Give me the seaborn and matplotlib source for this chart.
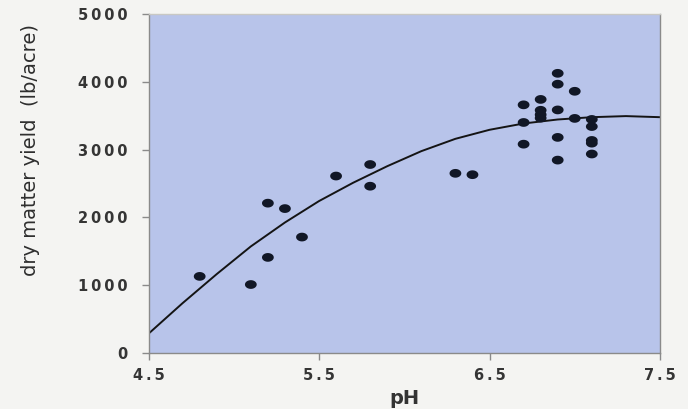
import numpy as np
import pandas as pd
import matplotlib
matplotlib.use("Agg")
import matplotlib.pyplot as plt
import seaborn as sns

# ---- data ----
ph_obs = [4.8, 5.1, 5.2, 5.2, 5.3, 5.4, 5.6, 5.8, 5.8, 6.3, 6.4,
          6.7, 6.7, 6.7, 6.8, 6.8, 6.8, 6.8,
          6.9, 6.9, 6.9, 6.9, 6.9, 7.0, 7.0,
          7.1, 7.1, 7.1, 7.1, 7.1]
yield_obs = [1130, 1010, 1410, 2210, 2130, 1710, 2610, 2780, 2460, 2650, 2630,
             3660, 3400, 3080, 3740, 3580, 3515, 3465,
             4125, 3965, 3585, 3180, 2845, 3860, 3460,
             3445, 3340, 3135, 3095, 2935]

curve_ph = [4.5, 4.7, 4.9, 5.1, 5.3, 5.5, 5.7, 5.9, 6.1, 6.3, 6.5,
            6.7, 6.9, 7.1, 7.3, 7.5]
curve_yield = [285, 736, 1164, 1572, 1925, 2241, 2511, 2755, 2977, 3159, 3292,
               3385, 3444, 3478, 3494, 3478]

x_ticks = [4.5, 5.5, 6.5, 7.5]
x_ticklabels = ["4.5", "5.5", "6.5", "7.5"]
y_ticks = [0, 1000, 2000, 3000, 4000, 5000]
y_ticklabels = ["0", "1000", "2000", "3000", "4000", "5000"]

obs = pd.DataFrame({"pH": ph_obs, "yield": yield_obs})
curve = pd.DataFrame({"pH": curve_ph, "yield": curve_yield})

sns.set_theme(style="white")
plt.rcParams["font.family"] = ["DejaVu Sans"]

fig = plt.figure(figsize=(6.88, 4.09), dpi=100, facecolor="#f4f4f2")
ax = fig.add_axes([0.2159, 0.1369, 0.9593 - 0.2159, 0.9658 - 0.1369])
ax.set_facecolor("#b8c4ea")

# elliptical marker (wider than tall)
t = np.linspace(0, 2 * np.pi, 40)
ell = np.column_stack([1.35 * np.cos(t), np.sin(t)])

sns.lineplot(data=curve, x="pH", y="yield", ax=ax, color="#141414",
             linewidth=1.4, zorder=2)
sns.scatterplot(data=obs, x="pH", y="yield", ax=ax, marker=ell, s=72,
                color="#111726", edgecolor="none", zorder=3)

ax.set_xlim(4.5, 7.5)
ax.set_ylim(0, 5000)

def spaced(s):
    return "\u2009".join(list(s))

ax.set_xticks(x_ticks)
ax.set_xticklabels([spaced(s) for s in x_ticklabels], fontsize=10.5,
                   fontweight="bold", color="#353535")
ax.set_yticks(y_ticks)
ax.set_yticklabels([spaced(s) for s in y_ticklabels], fontsize=10.5,
                   fontweight="bold", color="#353535")
ax.tick_params(axis="both", direction="out", length=5, width=1,
               color="#8a8a8a", bottom=True, left=True)
ax.tick_params(axis="y", pad=10)
ax.tick_params(axis="x", pad=6)

for side in ["left", "bottom", "right"]:
    ax.spines[side].set_color("#8a8a8a")
    ax.spines[side].set_linewidth(1.0)
ax.spines["top"].set_color("#c8c8c4")
ax.spines["top"].set_linewidth(1.0)

ax.set_xlabel("pH", fontsize=14, fontweight="bold", color="#333333",
              labelpad=4)
ax.set_ylabel("dry matter yield  (lb/acre)", fontsize=14, color="#2e2e2e")
ax.yaxis.set_label_coords(-0.212, 0.60)

fig.savefig("out.png", dpi=100, facecolor=fig.get_facecolor())
